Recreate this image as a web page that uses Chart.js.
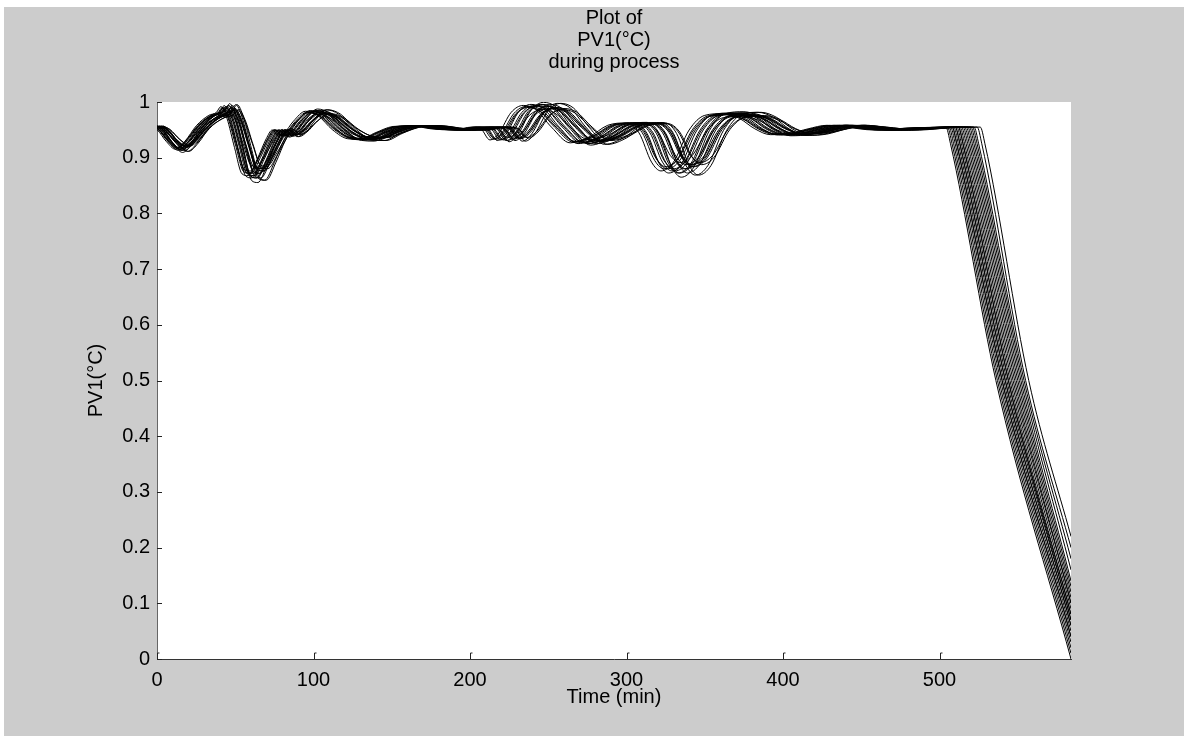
<!DOCTYPE html>
<html lang="en">
<head>
    <meta charset="UTF-8">
    <title>Plot of PV1(°C) during process</title>
    <script src="https://cdn.jsdelivr.net/npm/chart.js"></script>
    <style>
        body {
            margin: 0;
            background-color: white;
        }
        .container {
            position: relative;
            width: 1187px;
            height: 736px;
        }
    </style>
</head>
<body>
    <div class="container">
        <canvas id="pvChart"></canvas>
    </div>
    <script>
        // shared shape of the batch profile (Time in min, PV1)
        const timeKnots = [0, 4, 10, 16, 22, 30, 38, 43, 46, 50, 55, 60, 64, 70, 76, 80, 84, 88, 94, 102,
            110, 120, 130, 138, 148, 160, 172, 185, 200, 212, 218, 224, 230, 238, 246, 254, 264, 276, 288, 300,
            312, 320, 328, 334, 342, 352, 362, 374, 384, 394, 404, 416, 428, 440, 452, 470, 490];
        const baseValues = [0.957, 0.950, 0.930, 0.917, 0.930, 0.958, 0.975, 0.980, 0.990, 0.970, 0.920, 0.875, 0.872, 0.900, 0.935, 0.950, 0.940, 0.945, 0.965, 0.982,
            0.975, 0.950, 0.935, 0.934, 0.945, 0.956, 0.957, 0.952, 0.950, 0.955, 0.952, 0.933, 0.945, 0.980, 0.992, 0.985, 0.955, 0.928, 0.938, 0.958,
            0.962, 0.945, 0.895, 0.880, 0.895, 0.950, 0.975, 0.978, 0.970, 0.952, 0.942, 0.944, 0.952, 0.958, 0.955, 0.950, 0.953];

        // per-batch readings: time offset, swing size, start of cool-down, time at 0.5, last value
        const seriesLag = [-10, 4, -7, 8, -3, 12, 0, -8, 5, 14, -4, 1, 9, -12, 7, -1, 3, 13, -5, 10, -9, 4, 8, 0];
        const seriesAmp = [1.0, 0.9, 1.1, 0.95, 1.05, 1.15, 0.85, 1.0, 1.1, 0.9, 1.0, 1.2, 0.95, 1.05, 0.9, 1.1, 1.0, 0.85, 1.05, 1.15, 0.95, 1.0, 0.9, 1.1];
        const dropStart = [504, 505, 506, 507, 508, 508, 509, 510, 510, 511, 512, 512, 513, 514, 515, 516, 517, 518, 519, 520, 521, 522, 524, 526];
        const halfTime = [536, 537, 538, 539, 540, 540, 541, 542, 542, 543, 544, 544, 545, 546, 547, 548, 549, 550, 551, 552, 553, 554, 555, 557];
        const endValue = [0.00, 0.01, 0.02, 0.03, 0.04, 0.04, 0.05, 0.06, 0.06, 0.07, 0.07, 0.08, 0.08, 0.09, 0.10, 0.10, 0.11, 0.12, 0.13, 0.14, 0.16, 0.18, 0.20, 0.22];
        const flatLevel = 0.955;
        const endTime = 584;

        const datasets = seriesLag.map(function (lag, i) {
            const pts = timeKnots.map(function (t, k) {
                return {
                    x: t + lag * Math.min(1, 0.3 + t / 350),
                    y: flatLevel + (baseValues[k] - flatLevel) * seriesAmp[i]
                };
            });
            pts.push({ x: dropStart[i], y: flatLevel });
            pts.push({ x: dropStart[i] + 3, y: 0.925 });
            pts.push({ x: halfTime[i], y: 0.5 });
            pts.push({ x: endTime, y: endValue[i] });
            return {
                data: pts,
                borderColor: "#000",
                borderWidth: 1,
                pointRadius: 0,
                fill: false,
                cubicInterpolationMode: "monotone"
            };
        });

        const bgPlugin = {
            id: "matlabFrame",
            beforeDraw(chart) {
                const ctx = chart.ctx;
                const a = chart.chartArea;
                ctx.save();
                ctx.fillStyle = "#fff";
                ctx.fillRect(0, 0, chart.width, chart.height);
                ctx.fillStyle = "#cccccc";
                ctx.fillRect(4, 7, 1180, 729);
                ctx.fillStyle = "#fff";
                ctx.fillRect(a.left, a.top, a.right - a.left, a.bottom - a.top);
                ctx.restore();
            },
            afterDraw(chart) {
                // MATLAB style inward ticks
                const ctx = chart.ctx;
                const xs = chart.scales.x, ys = chart.scales.y;
                const a = chart.chartArea;
                ctx.save();
                ctx.strokeStyle = "#222";
                ctx.lineWidth = 1;
                ctx.beginPath();
                ys.ticks.forEach(function (t) {
                    const py = Math.round(ys.getPixelForValue(t.value)) + 0.5;
                    ctx.moveTo(a.left, py);
                    ctx.lineTo(a.left + 5, py);
                });
                xs.ticks.forEach(function (t) {
                    const px = Math.round(xs.getPixelForValue(t.value)) + 0.5;
                    ctx.moveTo(px, a.bottom);
                    ctx.lineTo(px, a.bottom - 6);
                    ctx.lineTo(px + 2, a.bottom - 6);
                });
                ctx.stroke();
                ctx.restore();
            }
        };

        const font = { family: "'Liberation Sans', Arial, sans-serif", size: 20, lineHeight: "22px" };

        new Chart(document.getElementById("pvChart").getContext("2d"), {
            type: "line",
            data: { datasets: datasets },
            plugins: [bgPlugin],
            options: {
                responsive: true,
                maintainAspectRatio: false,
                animation: false,
                events: [],
                layout: { padding: { top: 0, left: 0, right: 116, bottom: 0 } },
                plugins: {
                    legend: { display: false },
                    tooltip: { enabled: false },
                    title: {
                        display: true,
                        fullSize: false,
                        text: ["Plot of", "PV1(°C)", "during process"],
                        color: "#000",
                        font: { family: font.family, size: 20, weight: "normal", lineHeight: "22px" },
                        padding: { top: 7, bottom: 29 }
                    }
                },
                scales: {
                    x: {
                        type: "linear",
                        min: 0,
                        max: endTime,
                        grid: { display: false, drawTicks: false },
                        border: { display: true, color: "#333", width: 1 },
                        afterBuildTicks(scale) {
                            scale.ticks = scale.ticks.filter(function (t) { return t.value % 100 === 0; });
                        },
                        afterFit(scale) { scale.height = 77; },
                        ticks: { stepSize: 100, color: "#000", font: font, padding: 10, maxRotation: 0 },
                        title: { display: true, text: "Time (min)", color: "#000", font: font, padding: { bottom: 28 } }
                    },
                    y: {
                        min: 0,
                        max: 1,
                        grid: { display: false, drawTicks: false },
                        border: { display: true, color: "#666", width: 1 },
                        afterFit(scale) { scale.width = 157; },
                        ticks: {
                            stepSize: 0.1,
                            color: "#000",
                            font: font,
                            padding: 7,
                            callback: function (v) { return String(Number(v.toFixed(1))); }
                        },
                        title: { display: true, text: "PV1(°C)", color: "#000", font: font, padding: { top: 85 } }
                    }
                }
            }
        });
    </script>
</body>
</html>
